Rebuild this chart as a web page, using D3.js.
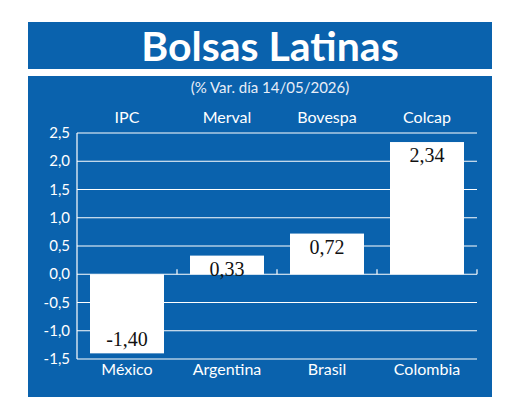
<!DOCTYPE html>
<html><head><meta charset="utf-8">
<script src="https://cdn.jsdelivr.net/npm/d3@7"></script>
<style>body{margin:0;background:#fff}</style></head>
<body><svg id="c" width="520" height="412"></svg>
<script>
const countries=["México","Argentina","Brasil","Colombia"];
const indices=["IPC","Merval","Bovespa","Colcap"];
const values=[-1.40,0.33,0.72,2.34];
const yTicks=[-1.5,-1.0,-0.5,0,0.5,1.0,1.5,2.0,2.5];
const blue="#0a62ad";
const svg=d3.select("#c");
const fam="Lato, 'Open Sans', sans-serif";
svg.append("rect").attr("x",28).attr("y",22).attr("width",464).attr("height",47).attr("fill",blue);
svg.append("rect").attr("x",28).attr("y",76).attr("width",464).attr("height",321).attr("fill",blue);
svg.append("text").attr("x",270).attr("y",61).attr("text-anchor","middle").attr("fill","#fff")
 .attr("font-family",fam).attr("font-weight","bold").attr("font-size",41).text("Bolsas Latinas");
svg.append("text").attr("x",270).attr("y",93).attr("text-anchor","middle").attr("fill","#e8eef8")
 .attr("font-family",fam).attr("font-size",15).text("(% Var. día 14/05/2026)");
const x=d3.scaleBand().domain(countries).range([77,477]).paddingInner(0.26).paddingOuter(0.13);
const y=d3.scaleLinear().domain([-1.5,2.5]).range([359,133]);
const fmt=d=>d3.format(".1f")(d).replace(".",",").replace("−","-");
// gridlines
svg.append("g").selectAll("line").data(yTicks).join("line")
 .attr("x1",77).attr("x2",477).attr("y1",d=>y(d)).attr("y2",d=>y(d)).attr("stroke","#fff").attr("stroke-width",1.2);
svg.append("line").attr("x1",77).attr("x2",77).attr("y1",y(2.5)).attr("y2",y(-1.5)).attr("stroke","#fff").attr("stroke-width",1.2);
// boundary ticks at zero
const bounds=[177,277,377,477];
svg.append("g").selectAll("line").data(bounds).join("line")
 .attr("x1",d=>d).attr("x2",d=>d).attr("y1",y(0)-5).attr("y2",y(0)).attr("stroke","#fff").attr("stroke-width",1.2);
svg.append("g").selectAll("text").data(yTicks).join("text")
 .attr("x",70).attr("y",d=>y(d)+5).attr("text-anchor","end").attr("fill","#fff")
 .attr("font-family",fam).attr("font-size",15).text(fmt);
svg.append("g").selectAll("rect").data(values).join("rect")
 .attr("x",(d,i)=>x(countries[i])).attr("width",x.bandwidth())
 .attr("y",d=>y(Math.max(0,d))).attr("height",d=>Math.abs(y(d)-y(0))).attr("fill","#fff");
svg.append("g").selectAll("text").data(values).join("text")
 .attr("x",(d,i)=>x(countries[i])+x.bandwidth()/2)
 .attr("y",d=>d>=0?y(d)+20:y(d)-7).attr("text-anchor","middle").attr("fill","#111")
 .attr("font-family","'Liberation Serif', serif").attr("font-size",20)
 .text(d=>d3.format(".2f")(d).replace(".",",").replace("−","-"));
svg.append("g").selectAll("text").data(countries).join("text")
 .attr("x",d=>x(d)+x.bandwidth()/2).attr("y",375).attr("text-anchor","middle").attr("fill","#fff")
 .attr("font-family",fam).attr("font-size",16).text(d=>d);
svg.append("g").selectAll("text").data(indices).join("text")
 .attr("x",(d,i)=>x(countries[i])+x.bandwidth()/2).attr("y",123).attr("text-anchor","middle").attr("fill","#fff")
 .attr("font-family",fam).attr("font-size",16).text(d=>d);
</script></body></html>
